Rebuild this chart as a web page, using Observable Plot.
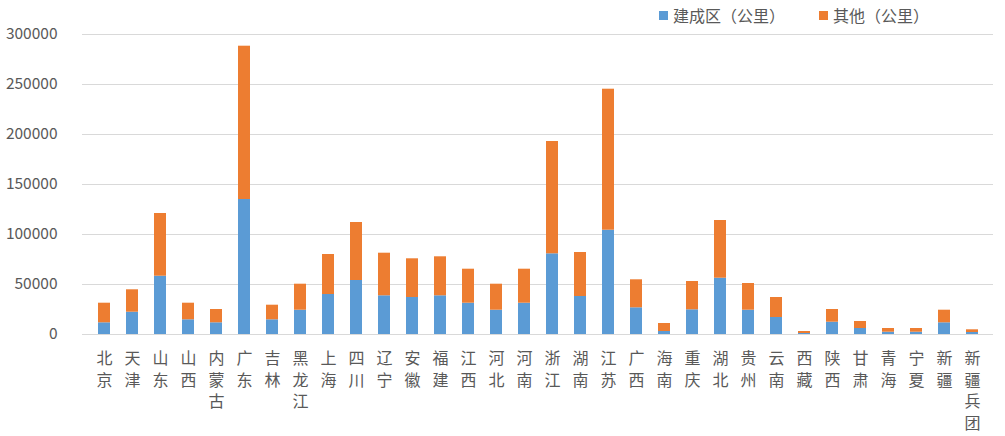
<!DOCTYPE html>
<html><head><meta charset="utf-8">
<script src="https://cdn.jsdelivr.net/npm/d3@7"></script>
<script src="https://cdn.jsdelivr.net/npm/@observablehq/plot@0.6"></script>
<style>
body{margin:0;background:#fff;font-family:"Noto Sans CJK SC","Noto Sans",sans-serif;}
#wrap{position:relative;width:1005px;height:436px;}
#legend{position:absolute;top:4px;left:659px;display:flex;gap:0;font-size:16px;color:#595959;line-height:22px;}
#legend span.item{display:inline-flex;align-items:center;margin-right:34px;}
#legend i{display:inline-block;width:9px;height:9px;margin-right:5px;}
</style></head>
<body><div id="wrap"><div id="legend"></div><div id="chart"></div></div>
<script>
const provinces = ["北京","天津","山东","山西","内蒙古","广东","吉林","黑龙江","上海","四川","辽宁","安徽","福建","江西","河北","河南","浙江","湖南","江苏","广西","海南","重庆","湖北","贵州","云南","西藏","陕西","甘肃","青海","宁夏","新疆","新疆兵团"];
const builtUp = [11700,22300,58300,14700,11700,135000,14700,24300,40000,54000,38700,37000,38700,31300,24300,31300,80700,38000,104300,26700,3000,24700,56300,24300,17000,1000,12300,6000,2300,2300,11700,2000];
const totals = [31300,44700,121000,31300,25000,288300,29300,50300,80000,112000,81300,75700,77700,65300,50300,65300,193000,82000,245300,54700,11000,53000,114000,51000,37000,3000,25000,13000,6000,6000,24300,4700];
const other = totals.map((t,i)=>t-builtUp[i]);
const seriesNames = ["建成区（公里）","其他（公里）"];
const seriesColors = ["#5B9BD5","#ED7D31"];
const yTicks = [0,50000,100000,150000,200000,250000,300000];

const data = [];
provinces.forEach((p,i)=>{
  data.push({province:p, series:seriesNames[0], value:builtUp[i]});
  data.push({province:p, series:seriesNames[1], value:other[i]});
});

const chart = Plot.plot({
  width:1005, height:436,
  marginLeft:82, marginRight:12, marginTop:34, marginBottom:102,
  style:{fontFamily:'"Noto Sans CJK SC","Noto Sans",sans-serif', color:"#595959", background:"#fff"},
  x:{domain:provinces, paddingInner:0.58, paddingOuter:0.29},
  y:{domain:[0,300000]},
  color:{domain:seriesNames, range:seriesColors},
  marks:[
    Plot.gridY(yTicks,{stroke:"#d9d9d9", strokeOpacity:1}),
    Plot.barY(data,{x:"province", y:"value", fill:"series", order:seriesNames}),
    Plot.ruleY([0],{stroke:"#d9d9d9"}),
    Plot.axisY(yTicks,{tickSize:0, tickPadding:25, fontSize:15.5, fill:"#595959", tickFormat:d=>String(d), label:null}),
    Plot.axisX({tickSize:0, tickPadding:14, fontSize:16, fill:"#595959", lineHeight:1.36, tickFormat:d=>[...d].join("\n"), label:null, textAnchor:"middle", lineAnchor:"top"})
  ]
});
document.getElementById("chart").appendChild(chart);

const lg = document.getElementById("legend");
seriesNames.forEach((n,i)=>{
  const s=document.createElement("span"); s.className="item";
  s.innerHTML=`<i style="background:${seriesColors[i]}"></i>${n}`;
  lg.appendChild(s);
});
</script></body></html>
